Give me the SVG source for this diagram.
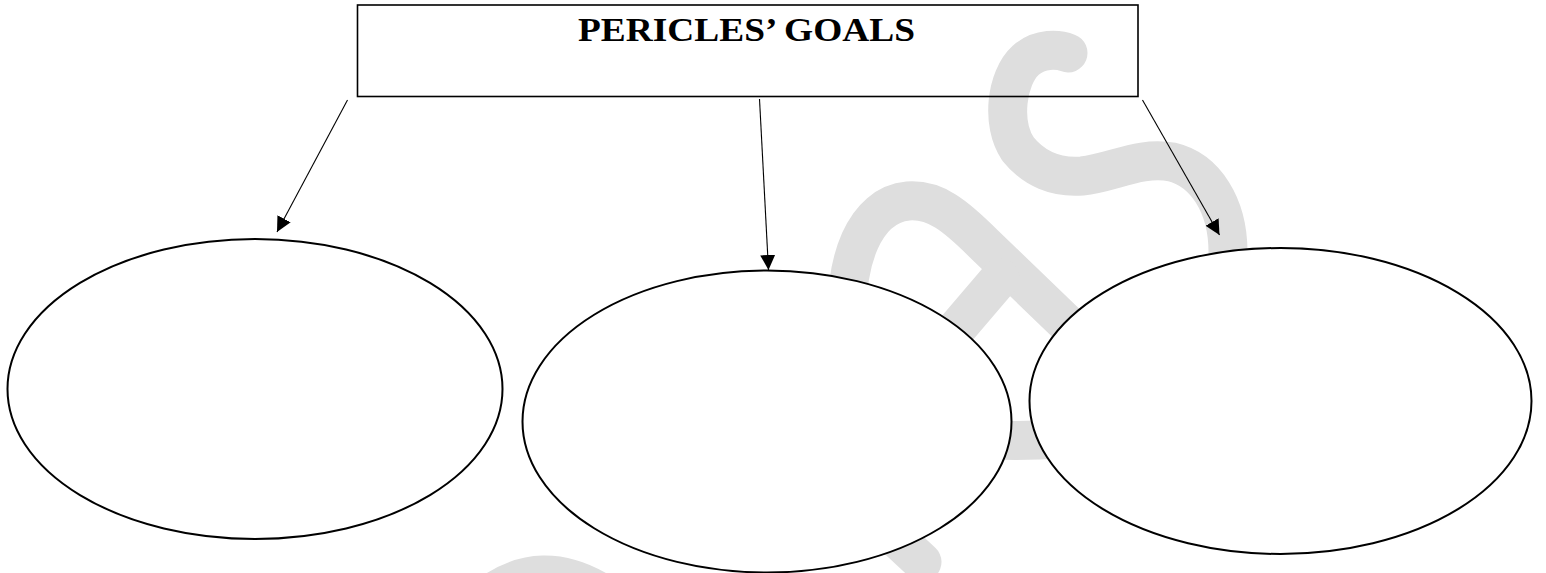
<svg xmlns="http://www.w3.org/2000/svg" width="1546" height="573" viewBox="0 0 1546 573">
  <style>
    .wm { fill: none; stroke: #dedede; stroke-width: 39; stroke-linecap: round; stroke-linejoin: round; }
    .box { fill: none; stroke: #000; stroke-width: 1.6; }
    .oval { fill: #fff; stroke: #000; stroke-width: 2; }
    .conn { stroke: #000; stroke-width: 1.1; fill: none; }
    .title { font-family: "Liberation Serif", "Times New Roman", serif; font-size: 33px; font-weight: bold; fill: #000; }
  </style>
  <defs>
    <marker id="arrow" markerUnits="userSpaceOnUse" markerWidth="16" markerHeight="16" refX="15" refY="7.5" orient="auto">
      <path d="M0,0 L15,7.5 L0,15 z" fill="#000"/>
    </marker>
  </defs>
  <rect width="1546" height="573" fill="#fff"/>

  <g id="watermark">
    <path class="wm" d="M1068,53 C1058,49 1040,48 1026,60 C1006,78 1001,124 1018,149 C1034,169 1056,178 1082,176 C1112,173 1140,156 1172,162 C1205,170 1228,205 1228,252 C1230,330 1180,420 1100,434 C1060,441 1020,441 990,440"/>
    <path class="wm" d="M848,330 C843,260 865,205 908,201 C935,199 955,215 985,245 L1120,375"/>
    <path class="wm" d="M1000,278 L930,360"/>
    <path class="wm" d="M850,495 L922,562"/>
    <path class="wm" d="M470,612 Q540,540 622,608"/>
  </g>

  <g id="title-node">
    <rect class="box" x="357.5" y="5" width="780.5" height="91.5"/>
    <text class="title" x="746.5" y="41" text-anchor="middle" textLength="337" lengthAdjust="spacingAndGlyphs">PERICLES’ GOALS</text>
  </g>

  <g id="goal-1">
    <ellipse class="oval" cx="255" cy="389" rx="247.5" ry="150"/>
  </g>
  <g id="goal-2">
    <ellipse class="oval" cx="767" cy="421.5" rx="244.5" ry="151"/>
  </g>
  <g id="goal-3">
    <ellipse class="oval" cx="1280.5" cy="401" rx="251" ry="153"/>
  </g>

  <g id="connectors">
    <line class="conn" x1="347.5" y1="100" x2="277" y2="232" marker-end="url(#arrow)"/>
    <line class="conn" x1="759.5" y1="99" x2="768.5" y2="270" marker-end="url(#arrow)"/>
    <line class="conn" x1="1142.5" y1="100" x2="1219.5" y2="235" marker-end="url(#arrow)"/>
  </g>
</svg>
